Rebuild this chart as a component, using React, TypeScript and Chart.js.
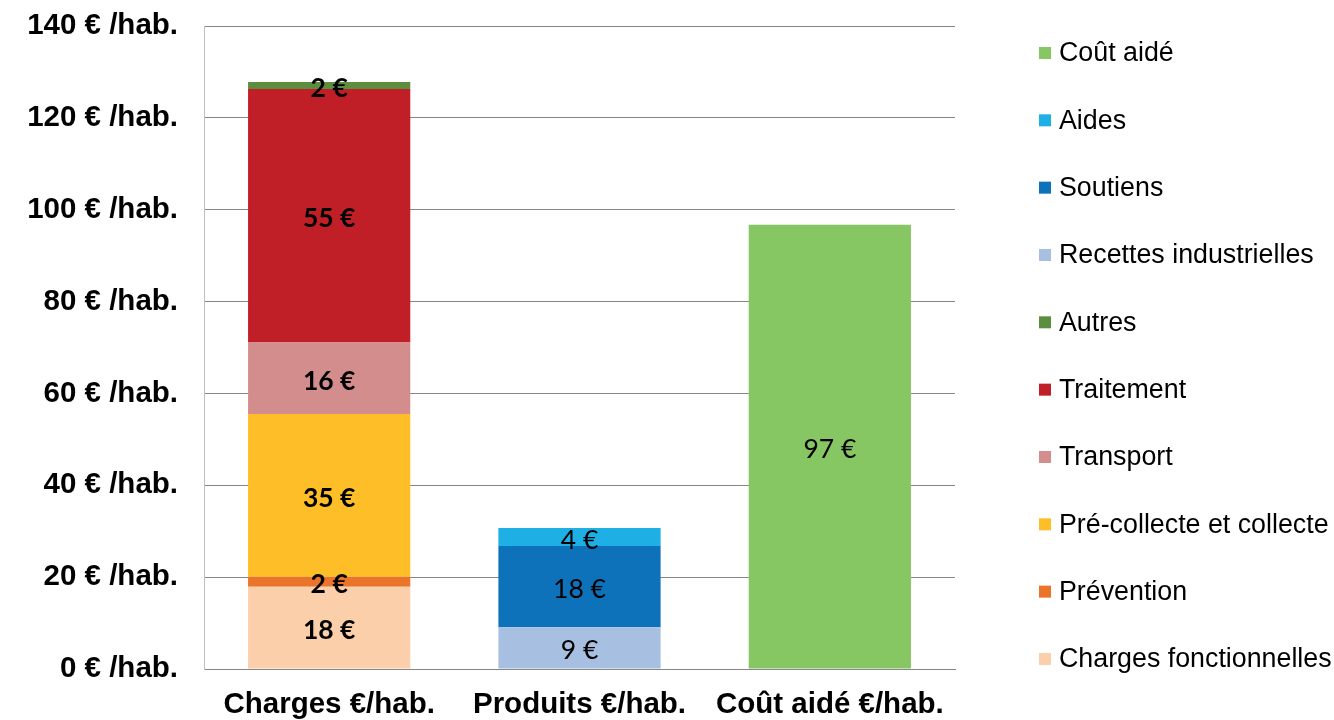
import React, { useEffect, useRef } from "react";
import { Chart, registerables } from "chart.js";

Chart.register(...registerables);

// ---- Data ----
const categories = ["Charges €/hab.", "Produits €/hab.", "Coût aidé €/hab."];
const yTickValues = [0, 20, 40, 60, 80, 100, 120, 140];
const yUnit = " € /hab.";

const chargesFonctionnelles = [17.9, null, null];
const prevention = [2.2, null, null];
const preCollecte = [35.4, null, null];
const transport = [15.6, null, null];
const traitement = [55.2, null, null];
const autres = [1.5, null, null];
const recettesIndustrielles = [null, 9.1, null];
const soutiens = [null, 17.7, null];
const aides = [null, 3.9, null];
const coutAide = [null, null, 96.7];

const seriesNames = [
  "Charges fonctionnelles",
  "Prévention",
  "Pré-collecte et collecte",
  "Transport",
  "Traitement",
  "Autres",
  "Recettes industrielles",
  "Soutiens",
  "Aides",
  "Coût aidé",
];
const seriesValues = [
  chargesFonctionnelles,
  prevention,
  preCollecte,
  transport,
  traitement,
  autres,
  recettesIndustrielles,
  soutiens,
  aides,
  coutAide,
];
const seriesColors = [
  "#FBCFAA",
  "#E9742A",
  "#FDBE27",
  "#D48D8D",
  "#C01F27",
  "#5B8F3F",
  "#A7BFE0",
  "#0E72BA",
  "#1EB0E5",
  "#86C663",
];
const boldLabelCategory = [true, false, false];

const ARIAL = '"Liberation Sans", Arial, sans-serif';

const valueLabels = {
  id: "valueLabels",
  afterDatasetsDraw(chart: any) {
    const ctx = chart.ctx;
    chart.data.datasets.forEach((ds: any, di: number) => {
      const meta = chart.getDatasetMeta(di);
      meta.data.forEach((el: any, i: number) => {
        const v = ds.data[i];
        if (v == null) return;
        const { x, y, base } = el.getProps(["x", "y", "base"], true);
        ctx.save();
        ctx.font = `${boldLabelCategory[i] ? "bold " : ""}26.5px Lato, "Open Sans", sans-serif`;
        ctx.fillStyle = "#000";
        ctx.textAlign = "center";
        ctx.textBaseline = "middle";
        ctx.fillText(`${Math.round(v)} €`, x, (y + base) / 2 + 3);
        ctx.restore();
      });
    });
  },
};

const sideLegend = {
  id: "sideLegend",
  afterDraw(chart: any) {
    const ctx = chart.ctx;
    const area = chart.chartArea;
    const boxX = area.right + 84;
    const textX = boxX + 20;
    const n = chart.data.datasets.length;
    const firstY = 54;
    const step = 67.33;
    ctx.save();
    for (let k = 0; k < n; k++) {
      const ds = chart.data.datasets[n - 1 - k];
      const cy = firstY + k * step;
      ctx.fillStyle = ds.backgroundColor;
      ctx.fillRect(boxX, cy - 7, 12, 12);
      ctx.fillStyle = "#000";
      ctx.font = `26.8px ${ARIAL}`;
      ctx.textAlign = "left";
      ctx.textBaseline = "middle";
      ctx.fillText(ds.label, textX, cy);
    }
    ctx.restore();
  },
};

export default function App() {
  const ref = useRef<HTMLCanvasElement | null>(null);

  useEffect(() => {
    if (!ref.current) return;
    const chart = new Chart(ref.current, {
      type: "bar",
      data: {
        labels: categories,
        datasets: seriesNames.map((name, i) => ({
          label: name,
          data: seriesValues[i],
          backgroundColor: seriesColors[i],
          borderWidth: 0,
          categoryPercentage: 1,
          barPercentage: 0.648,
          skipNull: true,
        })) as any,
      },
      options: {
        animation: false,
        responsive: true,
        maintainAspectRatio: false,
        layout: { padding: { top: 26, right: 379, left: 0, bottom: 0 } },
        plugins: {
          legend: { display: false },
          tooltip: { enabled: false },
          title: { display: false },
        },
        scales: {
          x: {
            stacked: true,
            grid: { display: false, drawTicks: false },
            border: { display: true, color: "#868686", width: 1 },
            ticks: {
              color: "#000",
              padding: 18,
              font: { family: ARIAL, size: 29.5, weight: "bold" },
              maxRotation: 0,
              autoSkip: false,
            },
            afterFit(scale: any) {
              scale.height = 51;
              scale.paddingLeft = 0;
              scale.paddingRight = 0;
            },
          },
          y: {
            stacked: true,
            min: 0,
            max: 140,
            afterBuildTicks(scale: any) {
              scale.ticks = yTickValues.map((v) => ({ value: v }));
            },
            grid: { color: "#868686", lineWidth: 1, drawTicks: false },
            border: { display: true, color: "#BFBFBF", width: 1 },
            ticks: {
              color: "#000",
              padding: 26,
              font: { family: ARIAL, size: 29.5, weight: "bold" },
              callback: (v: any) => `${v}${yUnit}`,
            },
            afterFit(scale: any) {
              scale.width = 204;
              scale.paddingTop = 0;
              scale.paddingBottom = 0;
            },
          },
        },
      },
      plugins: [valueLabels, sideLegend],
    });
    return () => chart.destroy();
  }, []);

  return (
    <div
      style={{
        position: "fixed",
        left: 0,
        top: 0,
        width: 1334,
        height: 720,
        background: "#fff",
      }}
    >
      <canvas ref={ref} />
    </div>
  );
}
